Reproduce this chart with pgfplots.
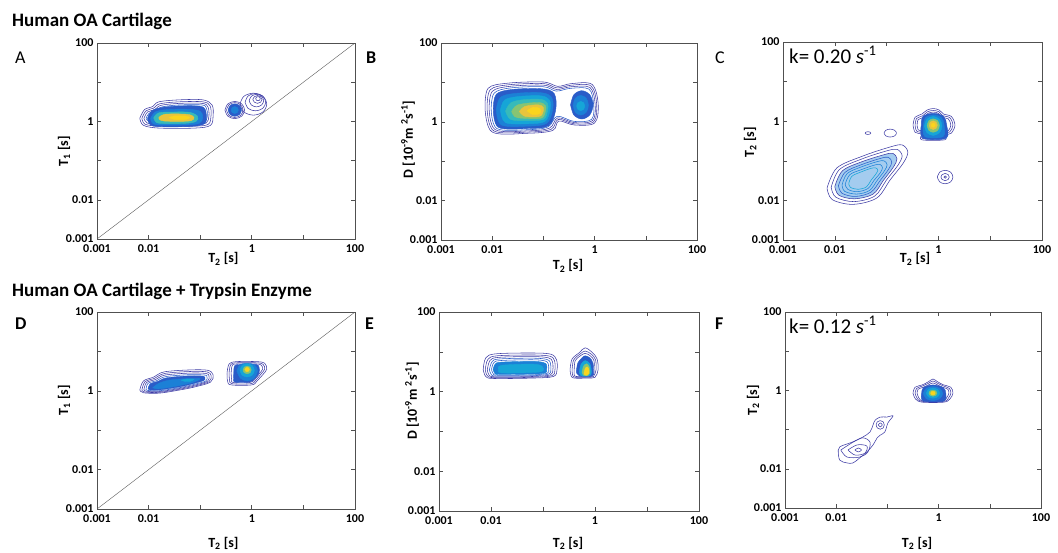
\documentclass[border=0pt]{standalone}
\usepackage{fontspec}
\setmainfont{Carlito}
\usepackage{pgfplots}
\pgfplotsset{compat=1.18}
\definecolor{c0}{RGB}{62,60,165}
\definecolor{c1}{RGB}{42,92,200}
\definecolor{c2}{RGB}{28,128,214}
\definecolor{c3}{RGB}{22,165,215}
\definecolor{c4}{RGB}{55,186,185}
\definecolor{c5}{RGB}{135,196,115}
\definecolor{c6}{RGB}{232,196,60}
\definecolor{c7}{RGB}{250,212,30}
\definecolor{frame}{RGB}{80,80,80}

% log10 units on both axes; labels show the decades
\pgfplotsset{
  panel/.style={
    scale only axis, anchor=south west,
    xmin=-3, xmax=2, ymin=-3, ymax=2,
    xtick={-3,-2,-1,0,1,2}, ytick={-3,-2,-1,0,1,2},
    xticklabels={0.001,0.01,,1,,100}, yticklabels={0.001,0.01,,1,,100},
    tick align=inside, major tick length=4pt,
    axis line style={draw=frame, line width=0.8pt},
    tick style={draw=frame, line width=0.6pt},
    tick label style={font=\bfseries\fontsize{12}{12}\selectfont},
    xticklabel style={yshift=-2.5pt},
    label style={font=\bfseries\fontsize{14}{14}\selectfont},
    xlabel style={anchor=base},
    ylabel style={anchor=center},
  },
  ln/.style={draw=#1, line width=0.55pt, smooth, tension=0.55},
  ln/.default=c0,
  fl/.style={fill=#1, draw=#1, line width=0.4pt, smooth, tension=0.55},
  dg/.style={draw=black!65, line width=0.4pt},
}

\begin{document}
\begin{tikzpicture}
\useasboundingbox (0pt,0pt) rectangle (1058pt,-552pt);

\node[anchor=base west, inner sep=0, font=\bfseries\fontsize{19}{21}\selectfont] at (12pt,-26pt) {Human OA Cartilage};
\node[anchor=base west, inner sep=0, font=\bfseries\fontsize{19}{21}\selectfont] at (12pt,-296pt) {Human OA Cartilage + Trypsin Enzyme};

\node[anchor=base west, inner sep=0, font=\fontsize{18}{20}\selectfont] at (15pt,-63pt) {A};
\node[anchor=base west, inner sep=0, font=\bfseries\fontsize{18}{20}\selectfont] at (366pt,-63pt) {B};
\node[anchor=base west, inner sep=0, font=\fontsize{18}{20}\selectfont] at (715pt,-63pt) {C};
\node[anchor=base west, inner sep=0, font=\bfseries\fontsize{18}{20}\selectfont] at (15pt,-329pt) {D};
\node[anchor=base west, inner sep=0, font=\bfseries\fontsize{18}{20}\selectfont] at (365pt,-329pt) {E};
\node[anchor=base west, inner sep=0, font=\bfseries\fontsize{18}{20}\selectfont] at (715pt,-329pt) {F};

%% ---------------- A: T1-T2 ----------------
\begin{axis}[panel, at={(97pt,-239pt)}, width=258pt, height=196pt,
  xlabel={T\textsubscript{2} [s]}, ylabel={T\textsubscript{1} [s]},
  xlabel style={at={(axis description cs:0.49,-0.122)}},
  ylabel style={at={(axis description cs:-0.128,0.449)}}]
\addplot[dg] coordinates {(-3,-3) (2,2)};
\addplot[ln] coordinates {(-2.17,0.08) (-2.08,0.30) (-1.92,0.38) (-1.80,0.50) (-1.40,0.55) (-0.95,0.55) (-0.77,0.42) (-0.75,0.15) (-0.80,-0.10) (-1.10,-0.17) (-1.80,-0.17) (-2.10,-0.10) (-2.17,0.08)};
\addplot[ln] coordinates {(-2.13,0.08) (-2.05,0.27) (-1.90,0.34) (-1.78,0.45) (-1.40,0.50) (-0.95,0.50) (-0.81,0.40) (-0.79,0.15) (-0.84,-0.07) (-1.10,-0.12) (-1.80,-0.12) (-2.07,-0.07) (-2.13,0.08)};
\addplot[ln] coordinates {(-2.09,0.08) (-2.02,0.24) (-1.88,0.30) (-1.76,0.41) (-1.40,0.46) (-0.96,0.46) (-0.85,0.37) (-0.83,0.15) (-0.88,-0.04) (-1.10,-0.08) (-1.80,-0.08) (-2.03,-0.04) (-2.09,0.08)};
\addplot[ln=c1] coordinates {(-2.05,0.08) (-1.99,0.21) (-1.86,0.27) (-1.74,0.37) (-1.40,0.42) (-0.97,0.42) (-0.88,0.34) (-0.86,0.15) (-0.91,-0.01) (-1.10,-0.05) (-1.80,-0.05) (-1.99,-0.01) (-2.05,0.08)};
\addplot[fl=c1] coordinates {(-2.02,0.08) (-1.94,0.27) (-1.72,0.36) (-1.30,0.40) (-0.95,0.37) (-0.88,0.15) (-0.92,-0.06) (-1.20,-0.13) (-1.85,-0.13) (-1.99,-0.05) (-2.02,0.08)};
\addplot[fl=c2] coordinates {(-1.96,0.08) (-1.87,0.24) (-1.65,0.30) (-1.25,0.31) (-1.00,0.26) (-0.95,0.10) (-1.02,-0.05) (-1.30,-0.09) (-1.82,-0.09) (-1.94,-0.02) (-1.96,0.08)};
\addplot[fl=c4] coordinates {(-1.90,0.10) (-1.80,0.22) (-1.50,0.24) (-1.20,0.23) (-1.05,0.13) (-1.08,0.00) (-1.30,-0.05) (-1.78,-0.05) (-1.88,0.02) (-1.90,0.10)};
\addplot[fl=c6] coordinates {(-1.80,0.10) (-1.70,0.18) (-1.40,0.19) (-1.20,0.17) (-1.12,0.10) (-1.17,0.02) (-1.40,0.00) (-1.70,0.01) (-1.79,0.05) (-1.80,0.10)};
\addplot[fl=c7] coordinates {(-1.60,0.10) (-1.50,0.14) (-1.30,0.14) (-1.20,0.10) (-1.28,0.05) (-1.50,0.05) (-1.60,0.10)};
% second population, rings towards upper right
\addplot[ln] coordinates {(-0.23,0.44) (-0.155,0.64) (0.03,0.72) (0.215,0.64) (0.29,0.44) (0.215,0.24) (0.03,0.16) (-0.155,0.24) (-0.23,0.44)};
\addplot[ln] coordinates {(-0.13,0.49) (-0.07,0.65) (0.07,0.71) (0.21,0.65) (0.27,0.49) (0.21,0.33) (0.07,0.27) (-0.07,0.33) (-0.13,0.49)};
\addplot[ln] coordinates {(-0.05,0.53) (-0.01,0.64) (0.09,0.69) (0.19,0.64) (0.23,0.53) (0.19,0.42) (0.09,0.37) (-0.01,0.42) (-0.05,0.53)};
\addplot[ln] coordinates {(0.02,0.56) (0.05,0.63) (0.11,0.66) (0.17,0.63) (0.20,0.56) (0.17,0.49) (0.11,0.46) (0.05,0.49) (0.02,0.56)};
\addplot[ln] coordinates {(0.075,0.58) (0.09,0.62) (0.12,0.63) (0.15,0.62) (0.165,0.58) (0.15,0.54) (0.12,0.53) (0.09,0.54) (0.075,0.58)};
\addplot[ln] coordinates {(-0.52,0.29) (-0.465,0.446) (-0.33,0.51) (-0.195,0.446) (-0.14,0.29) (-0.195,0.134) (-0.33,0.07) (-0.465,0.134) (-0.52,0.29)};
\addplot[ln] coordinates {(-0.49,0.29) (-0.444,0.425) (-0.33,0.48) (-0.216,0.425) (-0.17,0.29) (-0.216,0.155) (-0.33,0.10) (-0.444,0.155) (-0.49,0.29)};
\addplot[fl=c1] coordinates {(-0.46,0.29) (-0.422,0.404) (-0.33,0.45) (-0.238,0.404) (-0.20,0.29) (-0.238,0.176) (-0.33,0.13) (-0.422,0.176) (-0.46,0.29)};
\addplot[fl=c2] coordinates {(-0.40,0.29) (-0.38,0.354) (-0.33,0.38) (-0.28,0.354) (-0.26,0.29) (-0.28,0.226) (-0.33,0.20) (-0.38,0.226) (-0.40,0.29)};
\end{axis}

%% ---------------- B: D-T2 ----------------
\begin{axis}[panel, at={(441pt,-240pt)}, width=256pt, height=197pt,
  xlabel={T\textsubscript{2} [s]}, ylabel={D [10\textsuperscript{-9}m \textsuperscript{2}s\textsuperscript{-1}]},
  xlabel style={at={(axis description cs:0.496,-0.152)}},
  ylabel style={at={(axis description cs:-0.129,0.51)}}]
\addplot[ln] coordinates {(-2.14,0.35) (-2.08,0.85) (-1.70,0.98) (-1.00,1.01) (-0.72,0.90) (-0.45,0.97) (-0.05,0.95) (0.07,0.45) (0.00,-0.03) (-0.40,-0.08) (-0.70,0.02) (-0.82,-0.22) (-1.30,-0.29) (-2.00,-0.26) (-2.14,0.35)};
\addplot[ln] coordinates {(-2.10,0.35) (-2.04,0.81) (-1.68,0.94) (-1.00,0.97) (-0.73,0.86) (-0.45,0.93) (-0.07,0.91) (0.04,0.45) (-0.02,0.00) (-0.40,-0.05) (-0.71,0.06) (-0.85,-0.19) (-1.30,-0.26) (-1.97,-0.23) (-2.10,0.35)};
\addplot[ln] coordinates {(-2.06,0.35) (-2.00,0.77) (-1.66,0.90) (-1.00,0.93) (-0.74,0.82) (-0.46,0.89) (-0.09,0.87) (0.01,0.45) (-0.04,0.03) (-0.40,-0.02) (-0.72,0.10) (-0.88,-0.16) (-1.30,-0.23) (-1.94,-0.20) (-2.06,0.35)};
\addplot[ln=c1] coordinates {(-2.02,0.35) (-1.96,0.73) (-1.64,0.86) (-1.00,0.89) (-0.75,0.78) (-0.47,0.85) (-0.11,0.83) (-0.02,0.45) (-0.06,0.06) (-0.40,0.01) (-0.73,0.14) (-0.91,-0.13) (-1.30,-0.20) (-1.91,-0.17) (-2.02,0.35)};
\addplot[fl=c1] coordinates {(-1.98,0.35) (-1.92,0.70) (-1.62,0.82) (-1.05,0.84) (-0.79,0.72) (-0.76,0.30) (-0.90,-0.10) (-1.30,-0.17) (-1.88,-0.14) (-1.98,0.35)};
\addplot[fl=c2] coordinates {(-1.92,0.32) (-1.84,0.62) (-1.56,0.72) (-1.05,0.74) (-0.84,0.62) (-0.82,0.30) (-0.94,-0.04) (-1.30,-0.11) (-1.82,-0.08) (-1.92,0.32)};
\addplot[fl=c3] coordinates {(-1.84,0.30) (-1.76,0.55) (-1.50,0.64) (-1.05,0.66) (-0.88,0.55) (-0.87,0.30) (-0.97,0.01) (-1.30,-0.05) (-1.74,-0.02) (-1.84,0.30)};
\addplot[fl=c4] coordinates {(-1.74,0.27) (-1.64,0.48) (-1.40,0.56) (-1.05,0.57) (-0.92,0.47) (-0.92,0.28) (-1.00,0.06) (-1.35,0.03) (-1.64,0.06) (-1.74,0.27)};
\addplot[fl=c5] coordinates {(-1.62,0.26) (-1.50,0.43) (-1.10,0.49) (-0.96,0.41) (-0.97,0.22) (-1.05,0.09) (-1.40,0.09) (-1.56,0.13) (-1.62,0.26)};
\addplot[fl=c6] coordinates {(-1.47,0.26) (-1.36,0.39) (-1.10,0.43) (-1.00,0.36) (-1.02,0.20) (-1.10,0.13) (-1.36,0.14) (-1.47,0.26)};
\addplot[fl=c7] coordinates {(-1.32,0.28) (-1.20,0.37) (-1.07,0.34) (-1.06,0.22) (-1.20,0.18) (-1.32,0.28)};
\addplot[fl=c1] coordinates {(-0.47,0.43) (-0.406,0.686) (-0.25,0.79) (-0.094,0.686) (-0.03,0.43) (-0.094,0.174) (-0.25,0.07) (-0.406,0.174) (-0.47,0.43)};
\addplot[fl=c2] coordinates {(-0.42,0.42) (-0.377,0.598) (-0.27,0.67) (-0.163,0.598) (-0.12,0.42) (-0.163,0.242) (-0.27,0.17) (-0.377,0.242) (-0.42,0.42)};
\addplot[fl=c3] coordinates {(-0.35,0.40) (-0.327,0.485) (-0.27,0.52) (-0.213,0.485) (-0.19,0.40) (-0.213,0.315) (-0.27,0.28) (-0.327,0.315) (-0.35,0.40)};
\end{axis}

%% ---------------- C: T2-T2 ----------------
\begin{axis}[panel, at={(783pt,-240pt)}, width=259pt, height=198pt,
  xlabel={T\textsubscript{2} [s]}, ylabel={T\textsubscript{2} [s]},
  xlabel style={at={(axis description cs:0.51,-0.116)}},
  ylabel style={at={(axis description cs:-0.127,0.495)}}]
% diagonal population
\addplot[draw=none, fill=c2!40, smooth, tension=0.55] coordinates {(-2.00,-1.65) (-1.85,-1.25) (-1.47,-1.02) (-1.06,-0.85) (-0.88,-0.81) (-0.80,-0.95) (-0.87,-1.16) (-1.06,-1.49) (-1.26,-1.84) (-1.62,-1.96) (-1.92,-1.87) (-2.00,-1.65)};
\addplot[ln] coordinates {(-2.15,-1.69) (-1.96,-1.18) (-1.46,-0.88) (-0.93,-0.65) (-0.70,-0.60) (-0.59,-0.78) (-0.68,-1.06) (-0.93,-1.48) (-1.19,-1.94) (-1.65,-2.10) (-2.05,-1.98) (-2.15,-1.69)};
\addplot[ln] coordinates {(-2.07,-1.67) (-1.91,-1.22) (-1.47,-0.95) (-1.00,-0.75) (-0.80,-0.71) (-0.70,-0.87) (-0.78,-1.11) (-1.00,-1.48) (-1.23,-1.89) (-1.63,-2.03) (-1.98,-1.92) (-2.07,-1.67)};
\addplot[ln] coordinates {(-2.00,-1.65) (-1.85,-1.25) (-1.47,-1.02) (-1.06,-0.85) (-0.88,-0.81) (-0.80,-0.95) (-0.87,-1.16) (-1.06,-1.49) (-1.26,-1.84) (-1.62,-1.96) (-1.92,-1.87) (-2.00,-1.65)};
\addplot[ln=c1] coordinates {(-1.93,-1.63) (-1.80,-1.29) (-1.47,-1.09) (-1.12,-0.94) (-0.97,-0.91) (-0.90,-1.03) (-0.96,-1.21) (-1.12,-1.49) (-1.30,-1.79) (-1.60,-1.90) (-1.86,-1.82) (-1.93,-1.63)};
\addplot[ln=c2] coordinates {(-1.86,-1.61) (-1.76,-1.32) (-1.48,-1.15) (-1.18,-1.02) (-1.05,-1.00) (-0.99,-1.10) (-1.04,-1.25) (-1.18,-1.49) (-1.33,-1.75) (-1.58,-1.84) (-1.81,-1.77) (-1.86,-1.61)};
\addplot[ln=c2] coordinates {(-1.80,-1.59) (-1.71,-1.35) (-1.48,-1.22) (-1.24,-1.11) (-1.13,-1.09) (-1.08,-1.17) (-1.12,-1.30) (-1.24,-1.49) (-1.36,-1.70) (-1.57,-1.78) (-1.75,-1.72) (-1.80,-1.59)};
\addplot[ln=c3] coordinates {(-1.73,-1.57) (-1.67,-1.39) (-1.49,-1.28) (-1.30,-1.19) (-1.21,-1.18) (-1.17,-1.24) (-1.21,-1.34) (-1.30,-1.49) (-1.39,-1.66) (-1.55,-1.72) (-1.70,-1.67) (-1.73,-1.57)};
% isolated small contours
\addplot[ln] coordinates {(-1.415,-0.30) (-1.399,-0.275) (-1.36,-0.265) (-1.321,-0.275) (-1.305,-0.30) (-1.321,-0.325) (-1.36,-0.335) (-1.399,-0.325) (-1.415,-0.30)};
\addplot[ln] coordinates {(-1.05,-0.30) (-1.015,-0.229) (-0.93,-0.20) (-0.845,-0.229) (-0.81,-0.30) (-0.845,-0.371) (-0.93,-0.40) (-1.015,-0.371) (-1.05,-0.30)};
\addplot[ln] coordinates {(-0.02,-1.41) (0.023,-1.289) (0.13,-1.24) (0.237,-1.289) (0.28,-1.41) (0.237,-1.531) (0.13,-1.58) (0.023,-1.531) (-0.02,-1.41)};
\addplot[ln] coordinates {(0.05,-1.41) (0.073,-1.346) (0.13,-1.32) (0.187,-1.346) (0.21,-1.41) (0.187,-1.474) (0.13,-1.50) (0.073,-1.474) (0.05,-1.41)};
\addplot[ln] coordinates {(0.105,-1.41) (0.13,-1.38) (0.155,-1.41) (0.13,-1.44) (0.105,-1.41)};
% bright population near 1 s
\addplot[ln] coordinates {(-0.49,-0.10) (-0.45,0.10) (-0.32,0.18) (-0.22,0.28) (-0.10,0.32) (0.02,0.28) (0.10,0.18) (0.25,0.12) (0.32,-0.10) (0.25,-0.30) (0.14,-0.35) (0.12,-0.47) (-0.32,-0.47) (-0.33,-0.33) (-0.45,-0.28) (-0.49,-0.10)};
\addplot[ln] coordinates {(-0.45,-0.10) (-0.42,0.07) (-0.30,0.14) (-0.21,0.24) (-0.10,0.27) (0.01,0.24) (0.08,0.14) (0.22,0.09) (0.28,-0.10) (0.22,-0.27) (0.11,-0.31) (0.10,-0.44) (-0.30,-0.44) (-0.30,-0.30) (-0.42,-0.25) (-0.45,-0.10)};
\addplot[ln] coordinates {(-0.41,-0.10) (-0.39,0.04) (-0.28,0.10) (-0.20,0.20) (-0.10,0.23) (0.00,0.20) (0.06,0.10) (0.19,0.06) (0.24,-0.10) (0.19,-0.24) (0.09,-0.28) (0.08,-0.42) (-0.28,-0.42) (-0.28,-0.27) (-0.39,-0.22) (-0.41,-0.10)};
\addplot[fl=c1] coordinates {(-0.33,-0.10) (-0.30,0.12) (-0.10,0.20) (0.10,0.12) (0.16,-0.10) (0.15,-0.43) (-0.30,-0.43) (-0.33,-0.10)};
\addplot[fl=c2] coordinates {(-0.29,-0.10) (-0.25,0.09) (-0.10,0.16) (0.06,0.09) (0.11,-0.10) (0.09,-0.39) (-0.26,-0.39) (-0.29,-0.10)};
\addplot[fl=c3] coordinates {(-0.27,-0.12) (-0.221,0.05) (-0.10,0.12) (0.021,0.05) (0.07,-0.12) (0.021,-0.29) (-0.10,-0.36) (-0.221,-0.29) (-0.27,-0.12)};
\addplot[fl=c5] coordinates {(-0.22,-0.11) (-0.185,0.011) (-0.10,0.06) (-0.015,0.011) (0.02,-0.11) (-0.015,-0.231) (-0.10,-0.28) (-0.185,-0.231) (-0.22,-0.11)};
\addplot[fl=c6] coordinates {(-0.18,-0.10) (-0.157,-0.022) (-0.10,0.01) (-0.043,-0.022) (-0.02,-0.10) (-0.043,-0.178) (-0.10,-0.21) (-0.157,-0.178) (-0.18,-0.10)};
\addplot[fl=c7] coordinates {(-0.14,-0.10) (-0.128,-0.061) (-0.10,-0.045) (-0.072,-0.061) (-0.06,-0.10) (-0.072,-0.139) (-0.10,-0.155) (-0.128,-0.139) (-0.14,-0.10)};
\end{axis}
\node[anchor=base west, inner sep=0, font=\fontsize{21}{23}\selectfont] at (789pt,-63pt) {k= 0.20 \textit{s}\textsuperscript{-1}};

%% ---------------- D: T1-T2 + trypsin ----------------
\begin{axis}[panel, at={(97pt,-509pt)}, width=258pt, height=197pt,
  xlabel={T\textsubscript{2} [s]}, ylabel={T\textsubscript{1} [s]},
  xlabel style={at={(axis description cs:0.49,-0.193)}},
  ylabel style={at={(axis description cs:-0.128,0.553)}}]
\addplot[dg] coordinates {(-3,-3) (2,2)};
\addplot[ln] coordinates {(-2.17,0.02) (-2.10,0.25) (-1.90,0.35) (-1.70,0.48) (-1.20,0.53) (-0.85,0.52) (-0.75,0.40) (-0.80,0.22) (-1.10,0.10) (-1.40,0.02) (-1.80,-0.06) (-2.10,-0.05) (-2.17,0.02)};
\addplot[ln] coordinates {(-2.13,0.02) (-2.07,0.23) (-1.88,0.32) (-1.69,0.44) (-1.20,0.49) (-0.87,0.48) (-0.79,0.39) (-0.83,0.23) (-1.11,0.12) (-1.40,0.04) (-1.80,-0.04) (-2.08,-0.03) (-2.13,0.02)};
\addplot[ln] coordinates {(-2.09,0.03) (-2.04,0.21) (-1.86,0.29) (-1.68,0.40) (-1.20,0.45) (-0.89,0.44) (-0.83,0.38) (-0.86,0.24) (-1.12,0.14) (-1.40,0.06) (-1.80,-0.02) (-2.05,-0.01) (-2.09,0.03)};
\addplot[ln=c1] coordinates {(-2.05,0.04) (-2.01,0.19) (-1.84,0.26) (-1.67,0.36) (-1.20,0.41) (-0.91,0.40) (-0.87,0.36) (-0.89,0.25) (-1.13,0.16) (-1.40,0.08) (-1.80,0.00) (-2.02,0.01) (-2.05,0.04)};
\addplot[fl=c1] coordinates {(-2.01,0.05) (-1.97,0.18) (-1.82,0.24) (-1.65,0.33) (-1.20,0.38) (-0.94,0.37) (-0.91,0.32) (-0.93,0.26) (-1.14,0.18) (-1.40,0.10) (-1.80,0.02) (-1.98,0.02) (-2.01,0.05)};
\addplot[fl=c2] coordinates {(-1.92,0.08) (-1.80,0.19) (-1.60,0.27) (-1.25,0.31) (-1.00,0.31) (-1.15,0.21) (-1.45,0.12) (-1.80,0.05) (-1.92,0.08)};
\addplot[fl=c3] coordinates {(-1.37,0.27) (-1.25,0.30) (-1.12,0.29) (-1.20,0.24) (-1.30,0.24) (-1.37,0.27)};
% second population
\addplot[ln] coordinates {(-0.48,0.45) (-0.44,0.68) (-0.30,0.74) (0.10,0.74) (0.25,0.70) (0.29,0.55) (0.22,0.42) (0.10,0.25) (0.00,0.15) (-0.40,0.15) (-0.47,0.25) (-0.48,0.45)};
\addplot[ln] coordinates {(-0.44,0.45) (-0.41,0.66) (-0.30,0.71) (0.10,0.71) (0.22,0.67) (0.25,0.55) (0.18,0.43) (0.08,0.27) (-0.02,0.18) (-0.38,0.18) (-0.43,0.26) (-0.44,0.45)};
\addplot[ln] coordinates {(-0.40,0.45) (-0.38,0.64) (-0.30,0.68) (0.10,0.68) (0.19,0.64) (0.21,0.55) (0.15,0.44) (0.06,0.29) (-0.04,0.21) (-0.36,0.21) (-0.39,0.27) (-0.40,0.45)};
\addplot[fl=c1] coordinates {(-0.35,0.45) (-0.33,0.64) (-0.20,0.67) (0.08,0.67) (0.14,0.60) (0.14,0.45) (0.05,0.30) (-0.05,0.22) (-0.33,0.22) (-0.35,0.30) (-0.35,0.45)};
\addplot[fl=c2] coordinates {(-0.29,0.50) (-0.23,0.66) (-0.09,0.70) (0.06,0.65) (0.11,0.50) (0.04,0.32) (-0.09,0.25) (-0.22,0.32) (-0.29,0.50)};
\addplot[fl=c3] coordinates {(-0.23,0.52) (-0.19,0.64) (-0.09,0.69) (0.01,0.64) (0.05,0.52) (0.01,0.40) (-0.09,0.35) (-0.19,0.40) (-0.23,0.52)};
\addplot[fl=c5] coordinates {(-0.17,0.53) (-0.147,0.601) (-0.09,0.63) (-0.033,0.601) (-0.01,0.53) (-0.033,0.459) (-0.09,0.43) (-0.147,0.459) (-0.17,0.53)};
\addplot[fl=c7] coordinates {(-0.135,0.54) (-0.122,0.579) (-0.09,0.595) (-0.058,0.579) (-0.045,0.54) (-0.058,0.501) (-0.09,0.485) (-0.122,0.501) (-0.135,0.54)};
\end{axis}

%% ---------------- E: D-T2 + trypsin ----------------
\begin{axis}[panel, at={(439pt,-511pt)}, width=260pt, height=199pt,
  xlabel={T\textsubscript{2} [s]}, ylabel={D [10\textsuperscript{-9}m \textsuperscript{2}s\textsuperscript{-1}]},
  xlabel style={at={(axis description cs:0.496,-0.181)}},
  ylabel style={at={(axis description cs:-0.104,0.553)}}]
\addplot[ln] coordinates {(-2.15,0.55) (-2.10,0.85) (-1.90,0.95) (-1.20,0.97) (-0.85,0.94) (-0.74,0.80) (-0.73,0.55) (-0.80,0.38) (-1.20,0.34) (-1.95,0.33) (-2.10,0.38) (-2.15,0.55)};
\addplot[ln] coordinates {(-2.11,0.55) (-2.06,0.81) (-1.88,0.90) (-1.20,0.92) (-0.87,0.89) (-0.78,0.78) (-0.77,0.55) (-0.83,0.40) (-1.20,0.36) (-1.93,0.35) (-2.07,0.40) (-2.11,0.55)};
\addplot[ln] coordinates {(-2.07,0.55) (-2.02,0.78) (-1.86,0.86) (-1.20,0.88) (-0.90,0.85) (-0.82,0.76) (-0.81,0.55) (-0.86,0.42) (-1.20,0.38) (-1.91,0.37) (-2.04,0.42) (-2.07,0.55)};
\addplot[ln=c1] coordinates {(-2.03,0.55) (-1.98,0.75) (-1.84,0.82) (-1.20,0.84) (-0.93,0.81) (-0.86,0.73) (-0.85,0.55) (-0.89,0.44) (-1.20,0.40) (-1.89,0.39) (-2.00,0.44) (-2.03,0.55)};
\addplot[ln=c1] coordinates {(-1.99,0.55) (-1.95,0.72) (-1.82,0.78) (-1.20,0.80) (-0.96,0.77) (-0.90,0.70) (-0.89,0.55) (-0.92,0.46) (-1.20,0.42) (-1.87,0.41) (-1.96,0.46) (-1.99,0.55)};
\addplot[fl=c2] coordinates {(-1.96,0.55) (-1.92,0.69) (-1.80,0.74) (-1.20,0.76) (-0.99,0.73) (-0.93,0.67) (-0.93,0.55) (-0.95,0.47) (-1.20,0.44) (-1.85,0.43) (-1.93,0.47) (-1.96,0.55)};
\addplot[fl=c3] coordinates {(-1.85,0.55) (-1.80,0.66) (-1.20,0.69) (-1.02,0.64) (-1.00,0.52) (-1.20,0.48) (-1.80,0.47) (-1.85,0.55)};
% second population
\addplot[ln] coordinates {(-0.48,0.55) (-0.44,0.82) (-0.30,0.98) (-0.19,1.10) (-0.05,0.98) (0.04,0.82) (0.06,0.55) (0.00,0.36) (-0.15,0.34) (-0.40,0.34) (-0.46,0.40) (-0.48,0.55)};
\addplot[ln] coordinates {(-0.44,0.55) (-0.41,0.80) (-0.29,0.94) (-0.19,1.02) (-0.07,0.94) (0.01,0.80) (0.02,0.55) (-0.03,0.38) (-0.15,0.36) (-0.38,0.36) (-0.43,0.41) (-0.44,0.55)};
\addplot[ln] coordinates {(-0.40,0.55) (-0.38,0.78) (-0.28,0.90) (-0.19,0.96) (-0.09,0.90) (-0.02,0.78) (-0.02,0.55) (-0.05,0.39) (-0.36,0.38) (-0.40,0.43) (-0.40,0.55)};
\addplot[fl=c1] coordinates {(-0.36,0.50) (-0.33,0.72) (-0.25,0.85) (-0.19,0.90) (-0.10,0.85) (-0.04,0.72) (-0.03,0.50) (-0.06,0.39) (-0.30,0.39) (-0.36,0.50)};
\addplot[fl=c3] coordinates {(-0.30,0.50) (-0.27,0.68) (-0.19,0.78) (-0.10,0.70) (-0.07,0.50) (-0.10,0.40) (-0.27,0.40) (-0.30,0.50)};
\addplot[fl=c5] coordinates {(-0.25,0.48) (-0.22,0.64) (-0.16,0.70) (-0.11,0.62) (-0.10,0.46) (-0.14,0.40) (-0.22,0.41) (-0.25,0.48)};
\addplot[fl=c7] coordinates {(-0.21,0.47) (-0.19,0.58) (-0.15,0.62) (-0.12,0.56) (-0.12,0.45) (-0.16,0.41) (-0.20,0.42) (-0.21,0.47)};
\end{axis}

%% ---------------- F: T2-T2 + trypsin ----------------
\begin{axis}[panel, at={(785pt,-508pt)}, width=256pt, height=196pt,
  xlabel={T\textsubscript{2} [s]}, ylabel={T\textsubscript{2} [s]},
  xlabel style={at={(axis description cs:0.516,-0.199)}},
  ylabel style={at={(axis description cs:-0.125,0.551)}}]
\addplot[ln] coordinates {(-1.96,-1.57) (-1.93,-1.44) (-1.69,-1.32) (-1.48,-1.19) (-1.34,-1.06) (-1.28,-0.88) (-1.24,-0.76) (-1.14,-0.68) (-1.01,-0.68) (-0.89,-0.65) (-0.99,-0.83) (-1.05,-1.06) (-1.14,-1.14) (-1.20,-1.21) (-1.28,-1.39) (-1.40,-1.57) (-1.54,-1.72) (-1.67,-1.85) (-1.79,-1.85) (-1.93,-1.78) (-1.96,-1.57)};
\addplot[ln] coordinates {(-1.91,-1.52) (-1.67,-1.32) (-1.48,-1.21) (-1.34,-1.32) (-1.38,-1.57) (-1.54,-1.70) (-1.79,-1.70) (-1.91,-1.52)};
\addplot[ln] coordinates {(-1.77,-1.52) (-1.59,-1.39) (-1.40,-1.42) (-1.44,-1.60) (-1.63,-1.65) (-1.77,-1.52)};
\addplot[ln] coordinates {(-1.635,-1.52) (-1.57,-1.47) (-1.505,-1.52) (-1.57,-1.57) (-1.635,-1.52)};
\addplot[ln] coordinates {(-1.22,-0.88) (-1.197,-0.802) (-1.14,-0.77) (-1.083,-0.802) (-1.06,-0.88) (-1.083,-0.958) (-1.14,-0.99) (-1.197,-0.958) (-1.22,-0.88)};
\addplot[ln] coordinates {(-1.18,-0.88) (-1.14,-0.83) (-1.10,-0.88) (-1.14,-0.93) (-1.18,-0.88)};
% bright population near 1 s
\addplot[ln] coordinates {(-0.50,-0.07) (-0.46,0.08) (-0.32,0.14) (-0.20,0.22) (-0.11,0.29) (-0.02,0.22) (0.10,0.14) (0.24,0.08) (0.28,-0.07) (0.22,-0.22) (0.10,-0.30) (-0.32,-0.30) (-0.45,-0.22) (-0.50,-0.07)};
\addplot[ln] coordinates {(-0.46,-0.07) (-0.43,0.05) (-0.32,0.11) (-0.20,0.18) (-0.11,0.24) (-0.02,0.18) (0.10,0.11) (0.21,0.05) (0.24,-0.07) (0.19,-0.20) (0.10,-0.28) (-0.32,-0.28) (-0.42,-0.20) (-0.46,-0.07)};
\addplot[ln] coordinates {(-0.42,-0.07) (-0.40,0.03) (-0.30,0.08) (-0.20,0.14) (-0.11,0.19) (-0.02,0.14) (0.08,0.08) (0.18,0.03) (0.20,-0.07) (0.16,-0.18) (0.08,-0.27) (-0.30,-0.27) (-0.39,-0.18) (-0.42,-0.07)};
\addplot[fl=c1] coordinates {(-0.33,-0.07) (-0.30,0.07) (-0.11,0.14) (0.09,0.07) (0.14,-0.07) (0.10,-0.27) (-0.30,-0.27) (-0.33,-0.07)};
\addplot[fl=c2] coordinates {(-0.30,-0.08) (-0.245,0.048) (-0.11,0.10) (0.025,0.048) (0.08,-0.08) (0.025,-0.208) (-0.11,-0.26) (-0.245,-0.208) (-0.30,-0.08)};
\addplot[fl=c3] coordinates {(-0.24,-0.07) (-0.202,0.022) (-0.11,0.06) (-0.018,0.022) (0.02,-0.07) (-0.018,-0.162) (-0.11,-0.20) (-0.202,-0.162) (-0.24,-0.07)};
\addplot[fl=c5] coordinates {(-0.19,-0.07) (-0.167,-0.013) (-0.11,0.01) (-0.053,-0.013) (-0.03,-0.07) (-0.053,-0.127) (-0.11,-0.15) (-0.167,-0.127) (-0.19,-0.07)};
\addplot[fl=c7] coordinates {(-0.155,-0.07) (-0.142,-0.034) (-0.11,-0.02) (-0.078,-0.034) (-0.065,-0.07) (-0.078,-0.106) (-0.11,-0.12) (-0.142,-0.106) (-0.155,-0.07)};
\end{axis}
\node[anchor=base west, inner sep=0, font=\fontsize{21}{23}\selectfont] at (789pt,-333pt) {k= 0.12 \textit{s}\textsuperscript{-1}};

\end{tikzpicture}
\end{document}
